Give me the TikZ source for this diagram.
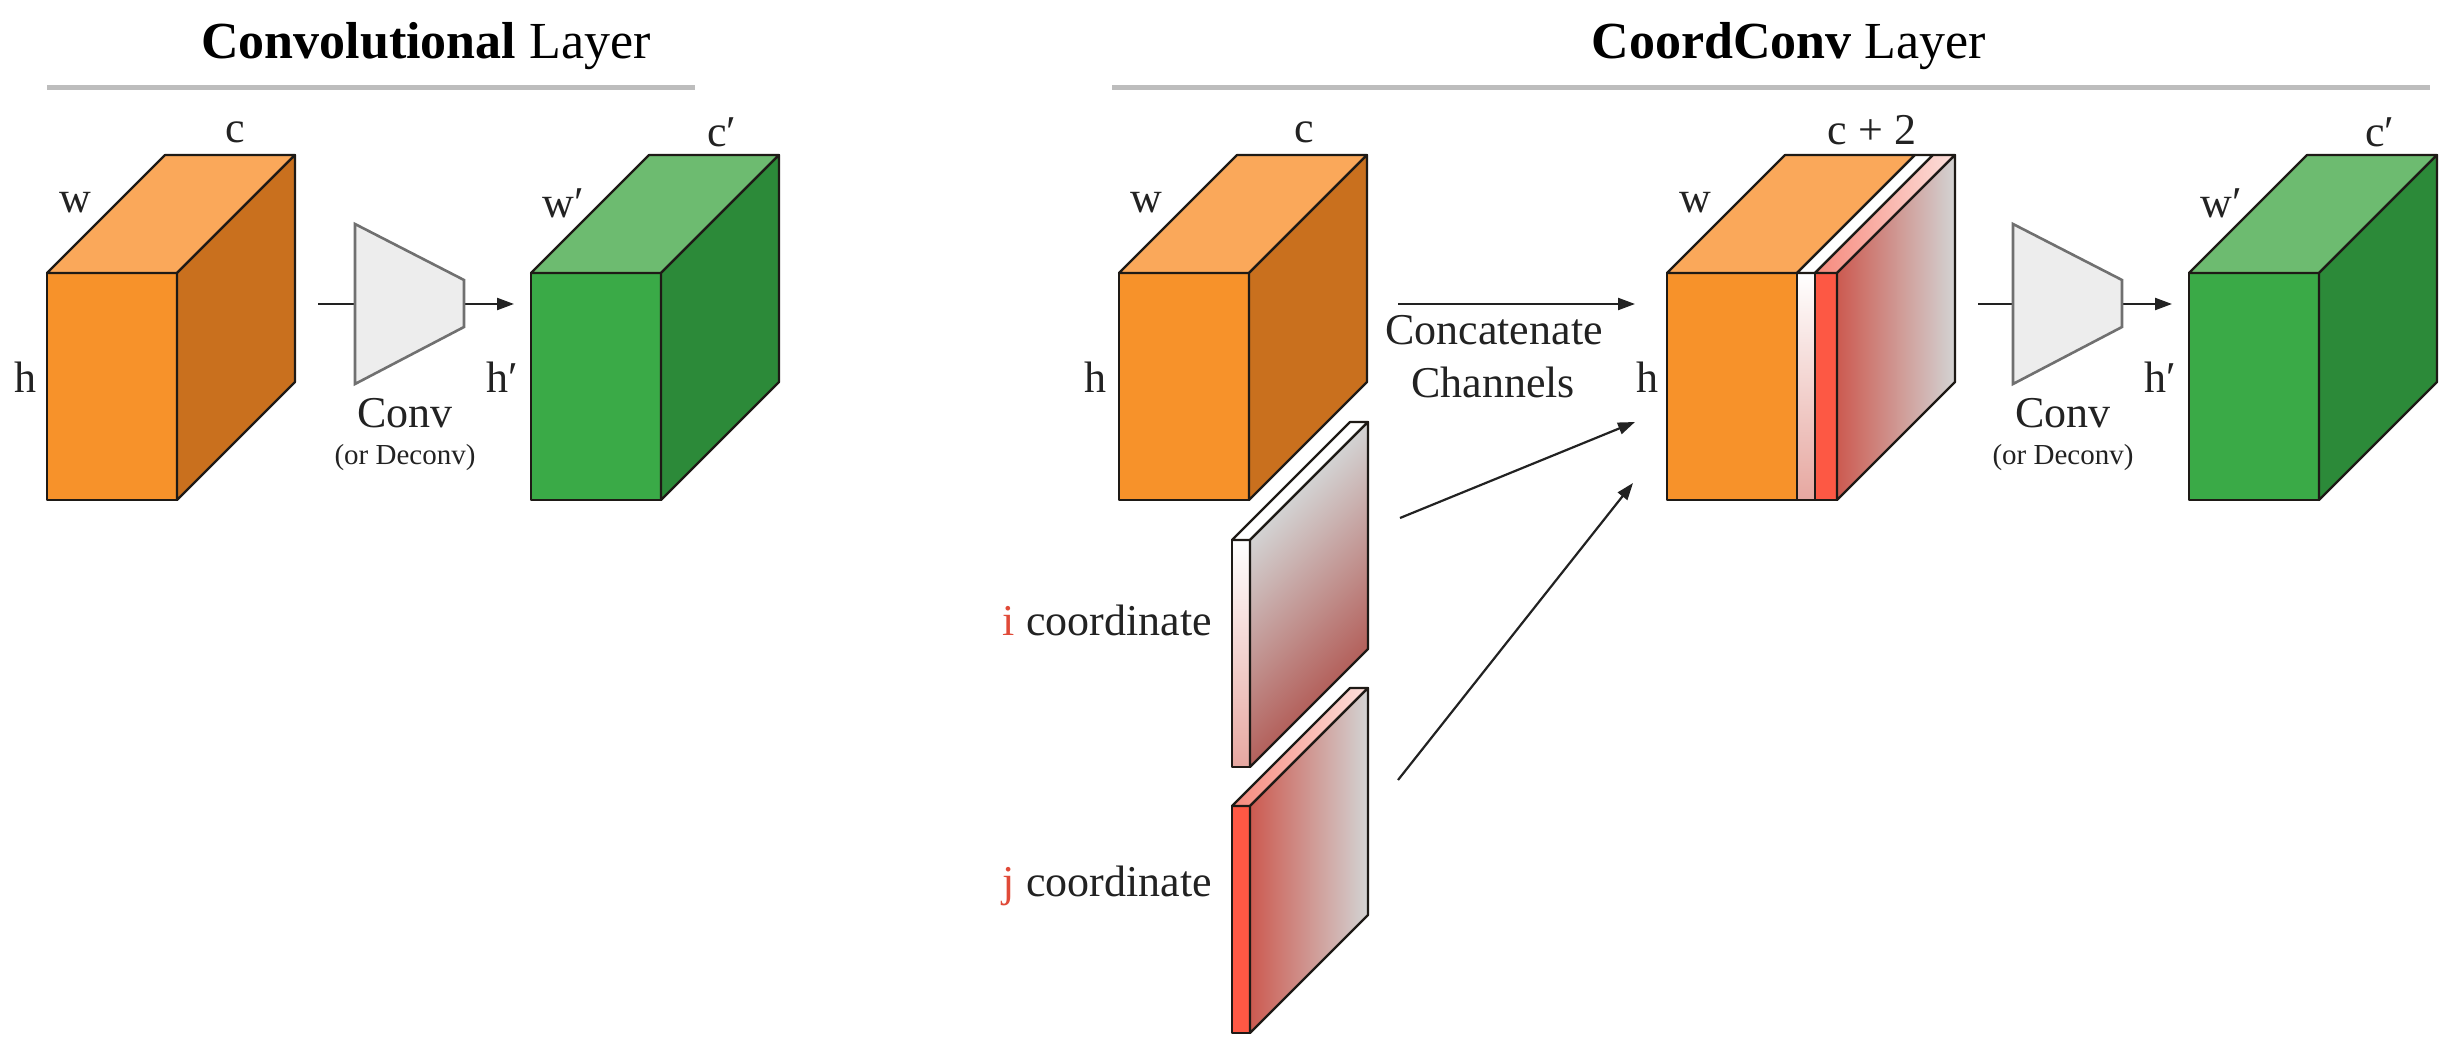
\documentclass[tikz,border=0pt]{standalone}
\usepackage{fontspec}
\setmainfont{Liberation Serif}
\usetikzlibrary{arrows.meta}
\definecolor{ofront}{HTML}{F7922A}
\definecolor{otop}{HTML}{FAA85A}
\definecolor{oside}{HTML}{C9701E}
\definecolor{gfront}{HTML}{3AAA47}
\definecolor{gtop}{HTML}{6DBB70}
\definecolor{gside}{HTML}{2C8A39}
\definecolor{edge}{HTML}{1E1A16}
\definecolor{rulegray}{HTML}{BDBDBD}
\definecolor{trapfill}{HTML}{EDEDED}
\definecolor{trapdraw}{HTML}{707070}
\definecolor{coordred}{HTML}{E04A38}
\definecolor{slabgray}{HTML}{D3D3D3}
\definecolor{ibottom}{HTML}{B3605B}
\definecolor{ipink}{HTML}{E6A7A0}
\definecolor{jred}{HTML}{FD5844}
\definecolor{jside}{HTML}{CC5A50}
\definecolor{jtopfront}{HTML}{F6897C}
\definecolor{jtopback}{HTML}{FCE0DC}
\definecolor{inkc}{HTML}{222222}

\newcommand{\drawbox}[4]{%
  \filldraw[boxline, fill=#2] (#1,-273) rectangle ({#1+130},-500);
  \filldraw[boxline, fill=#3] (#1,-273) -- ({#1+118},-155) -- ({#1+248},-155) -- ({#1+130},-273) -- cycle;
  \filldraw[boxline, fill=#4] ({#1+130},-273) -- ({#1+248},-155) -- ({#1+248},-382) -- ({#1+130},-500) -- cycle;
}

\begin{document}
\begin{tikzpicture}[x=1pt,y=1pt,
  boxline/.style={draw=edge, line width=2.2pt, line join=round},
  trap/.style={fill=trapfill, draw=trapdraw, line width=2.6pt, line join=miter},
  lbl/.style={font=\fontsize{44}{50}\selectfont, inner sep=0pt, text=inkc},
  smalllbl/.style={font=\fontsize{29}{33}\selectfont, inner sep=0pt, text=inkc},
  ttl/.style={font=\fontsize{52}{58}\selectfont, inner sep=0pt, anchor=base, text=black},
  rulestyle/.style={draw=rulegray, line width=5pt},
  conn/.style={draw=inkc, line width=2.2pt, -{Triangle[length=17pt,width=12pt]}},
  plainline/.style={draw=inkc, line width=2.2pt},
]
\useasboundingbox (0,0) rectangle (2450,-1048);

% titles and rules
\node[ttl] (t1) at (426,-59) {\textbf{Convolutional} Layer};
\node[ttl] (t2) at (1789,-59) {\textbf{CoordConv} Layer};
\draw[rulestyle] (47,-88) -- (695,-88);
\draw[rulestyle] (1112,-88) -- (2430,-88);

% ---------- Convolutional layer ----------
\drawbox{47}{ofront}{otop}{oside}
\node[lbl] (c1) at (235,-132) {c};
\node[lbl] (w1) at (75,-203) {w};
\node[lbl] (h1) at (25,-377) {h};

\coordinate (in1) at (318,-304);
\coordinate (tl1) at (355,-304);
\coordinate (tr1) at (464,-304);
\coordinate (out1) at (514,-304);
\draw[plainline] (in1) -- (tl1);
\draw[conn] (tr1) -- (out1);
\filldraw[trap] (355,-224) -- (464,-280) -- (464,-327) -- (355,-384) -- cycle;
\node[lbl] (conv1) at (405,-413) {Conv};
\node[smalllbl] (dec1) at (405,-458) {(or Deconv)};

\drawbox{531}{gfront}{gtop}{gside}
\node[lbl] (c1p) at (722,-132) {c′};
\node[lbl] (w1p) at (563,-203) {w′};
\node[lbl] (h1p) at (502,-377) {h′};

% ---------- CoordConv layer ----------
\drawbox{1119}{ofront}{otop}{oside}
\node[lbl] (c2) at (1304,-132) {c};
\node[lbl] (w2) at (1146,-203) {w};
\node[lbl] (h2) at (1095,-377) {h};

% i coordinate slab
\shade[top color=white, bottom color=ipink] (1232,-540) rectangle (1250,-767);
\draw[boxline] (1232,-540) rectangle (1250,-767);
\filldraw[boxline, fill=white] (1232,-540) -- (1350,-422) -- (1368,-422) -- (1250,-540) -- cycle;
\begin{scope}[transform canvas={yslant=1}]
  \shade[top color=slabgray, bottom color=ibottom] (1250,-1790) rectangle (1368,-2017);
\end{scope}
\draw[boxline] (1250,-540) -- (1368,-422) -- (1368,-649) -- (1250,-767) -- cycle;
\node[lbl, anchor=east] (ilab) at (1212,-620) {\textcolor{coordred}{i} coordinate};

% j coordinate slab
\filldraw[boxline, fill=jred] (1232,-806) rectangle (1250,-1033);
\shade[left color=jtopfront, right color=jtopback] (1232,-806) -- (1350,-688) -- (1368,-688) -- (1250,-806) -- cycle;
\draw[boxline] (1232,-806) -- (1350,-688) -- (1368,-688) -- (1250,-806) -- cycle;
\shade[left color=jside, right color=slabgray] (1250,-806) -- (1368,-688) -- (1368,-915) -- (1250,-1033) -- cycle;
\draw[boxline] (1250,-806) -- (1368,-688) -- (1368,-915) -- (1250,-1033) -- cycle;
\node[lbl, anchor=east] (jlab) at (1212,-886) {\textcolor{coordred}{j} coordinate};

% concatenated block
\filldraw[boxline, fill=ofront] (1667,-273) rectangle (1797,-500);
\filldraw[boxline, fill=otop] (1667,-273) -- (1785,-155) -- (1915,-155) -- (1797,-273) -- cycle;
\shade[top color=white, bottom color=ipink] (1797,-273) rectangle (1815,-500);
\draw[boxline] (1797,-273) rectangle (1815,-500);
\filldraw[boxline, fill=white] (1797,-273) -- (1915,-155) -- (1933,-155) -- (1815,-273) -- cycle;
\filldraw[boxline, fill=jred] (1815,-273) rectangle (1837,-500);
\shade[left color=jtopfront, right color=jtopback] (1815,-273) -- (1933,-155) -- (1955,-155) -- (1837,-273) -- cycle;
\draw[boxline] (1815,-273) -- (1933,-155) -- (1955,-155) -- (1837,-273) -- cycle;
\shade[left color=jside, right color=slabgray] (1837,-273) -- (1955,-155) -- (1955,-382) -- (1837,-500) -- cycle;
\draw[boxline] (1837,-273) -- (1955,-155) -- (1955,-382) -- (1837,-500) -- cycle;
\node[lbl] (c3) at (1872,-130) {c + 2};
\node[lbl] (w3) at (1695,-203) {w};
\node[lbl] (h3) at (1647,-377) {h};

% concatenation arrows
\coordinate (ca0) at (1398,-304);
\coordinate (ca1) at (1635,-304);
\draw[conn] (ca0) -- (ca1);
\node[lbl] (cat) at (1494,-330) {Concatenate};
\node[lbl] (chan) at (1493,-382) {Channels};
\coordinate (ia) at (1400,-518);
\coordinate (ib) at (1635,-422);
\coordinate (ja) at (1398,-780);
\coordinate (jb) at (1633,-483);
\draw[conn] (ia) -- (ib);
\draw[conn] (ja) -- (jb);

% second conv
\coordinate (in2) at (1978,-304);
\coordinate (tl2) at (2013,-304);
\coordinate (tr2) at (2122,-304);
\coordinate (out2) at (2172,-304);
\draw[plainline] (in2) -- (tl2);
\draw[conn] (tr2) -- (out2);
\filldraw[trap] (2013,-224) -- (2122,-280) -- (2122,-327) -- (2013,-384) -- cycle;
\node[lbl] (conv2) at (2063,-413) {Conv};
\node[smalllbl] (dec2) at (2063,-458) {(or Deconv)};

\drawbox{2189}{gfront}{gtop}{gside}
\node[lbl] (c4p) at (2380,-132) {c′};
\node[lbl] (w4p) at (2221,-203) {w′};
\node[lbl] (h4p) at (2160,-377) {h′};
\end{tikzpicture}
\end{document}
